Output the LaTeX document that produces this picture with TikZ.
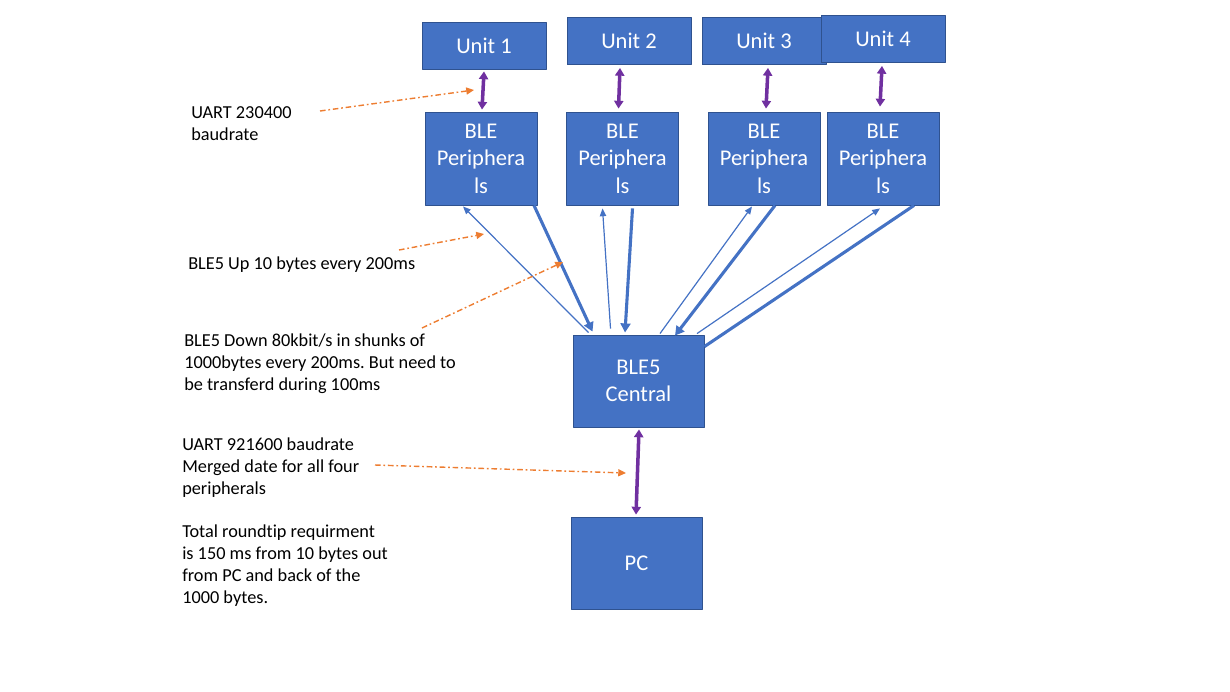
\documentclass[tikz,border=0pt]{standalone}
\usepackage{fontspec}
\setmainfont[Ligatures=NoCommon]{Carlito}
\usetikzlibrary{arrows.meta,calc}
\definecolor{boxfill}{HTML}{4472C4}
\definecolor{boxline}{HTML}{2F528F}
\definecolor{uartline}{HTML}{7030A0}
\definecolor{noteline}{HTML}{ED7D31}
\frenchspacing
\begin{document}
\begin{tikzpicture}[x=0.025cm,y=-0.025cm,line join=round,
  blebox/.style={draw=boxline,line width=0.6pt,fill=boxfill,text=white,
    font=\fontsize{16}{19.5}\selectfont,align=center,inner sep=0pt},
  unitbox/.style={blebox,minimum width=3.1cm,minimum height=1.175cm},
  periphbox/.style={blebox,minimum width=2.8cm,minimum height=2.325cm},
  centralbox/.style={blebox,minimum width=3.275cm,minimum height=2.3cm},
  note/.style={anchor=west,align=left,inner sep=0pt,font=\fontsize{13}{15.7}\selectfont},
  uart/.style={uartline,line width=2.5pt,
    {Triangle[length=5.5pt,width=6.5pt]}-{Triangle[length=5.5pt,width=6.5pt]}},
  upline/.style={boxfill,line width=0.85pt,-{Triangle[length=5.5pt,width=4.5pt]}},
  downline/.style={boxfill,line width=2.2pt,-{Triangle[length=6.5pt,width=7pt]}},
  hint/.style={noteline,line width=1pt,dash pattern=on 4pt off 2pt on 1.2pt off 2pt,
    -{Triangle[length=5.5pt,width=5pt]}}]
  \useasboundingbox (0,0) rectangle (1230,691);
  % units
  \node[unitbox] (u1) at (484,45.5) {Unit 1};
  \node[unitbox] (u2) at (629,41) {Unit 2};
  \node[unitbox] (u3) at (764,41) {Unit 3};
  \node[unitbox] (u4) at (883,39) {Unit 4};
  % peripherals
  \node[periphbox] (p1) at (481,158.5) {BLE\\Periphera\\ls};
  \node[periphbox] (p2) at (622.5,158.5) {BLE\\Periphera\\ls};
  \node[periphbox] (p3) at (764,158.5) {BLE\\Periphera\\ls};
  \node[periphbox] (p4) at (883,158.5) {BLE\\Periphera\\ls};
  % central and pc
  \node[centralbox] (c) at (638.5,381) {BLE5\\Central};
  \node[centralbox] (pc) at (636.5,563) {PC};
  % uart links
  \draw[uart] ($(u1.south)+(0,2)$) -- ($(p1.north)+(1,-2)$);
  \draw[uart] ($(u2.south)+(-9,3)$) -- ($(p2.north)+(-4,-3)$);
  \draw[uart] ($(u3.south)+(4,3)$) -- ($(p3.north)+(2,-3)$);
  \draw[uart] ($(u4.south)+(-1,3)$) -- ($(p4.north)+(-3,-5)$);
  \draw[uart] ($(c.south)+(0.5,2)$) -- ($(pc.north)+(-0.5,-2)$);
  % ble links
  \draw[upline] ($(c.north)+(-50,-2)$) -- ($(p1.south)+(-18,1)$);
  \draw[downline] ($(p1.south)+(53,0)$) -- ($(c.north)+(-46,-3)$);
  \draw[upline] ($(c.north)+(-28,-6)$) -- ($(p2.south)+(-20,3)$);
  \draw[downline] ($(p2.south)+(10,3)$) -- ($(c.north)+(-13.5,-2)$);
  \draw[upline] ($(c.north)+(21.5,-1)$) -- ($(p3.south)+(-12,1)$);
  \draw[downline] ($(p3.south)+(11,0)$) -- ($(c.north)+(36.5,1)$);
  \draw[upline] ($(c.north)+(58.5,-1)$) -- ($(p4.south)+(-3,3)$);
  \draw[boxfill,line width=2.2pt] ($(p4.south)+(31,0)$) -- ($(c.north east)+(0,12)$);
  % notes
  \node[note] (n1) at (191,124) {UART 230400\\baudrate};
  \node[note] (n2) at (188,265) {BLE5 Up 10 bytes every 200ms};
  \node[note] (n3) at (184,364) {BLE5 Down 80kbit/s in shunks of\\1000bytes every 200ms. But need to\\be transferd during 100ms};
  \node[note] (n4) at (182,468) {UART 921600 baudrate\\Merged date for all four\\peripherals};
  \node[note] (n5) at (182,566) {Total roundtip requirment\\is 150 ms from 10 bytes out\\from PC and back of the\\1000 bytes.};
  \coordinate (h1s) at (320,111);
  \coordinate (h1e) at (474,90);
  \coordinate (h2s) at (399,250);
  \coordinate (h2e) at (484,234);
  \coordinate (h3s) at (422,328);
  \coordinate (h3e) at (563,262);
  \coordinate (h4s) at (375,465);
  \coordinate (h4e) at (626,473);
  \draw[hint] (h1s) -- (h1e);
  \draw[hint] (h2s) -- (h2e);
  \draw[hint] (h3s) -- (h3e);
  \draw[hint] (h4s) -- (h4e);
\end{tikzpicture}
\end{document}
